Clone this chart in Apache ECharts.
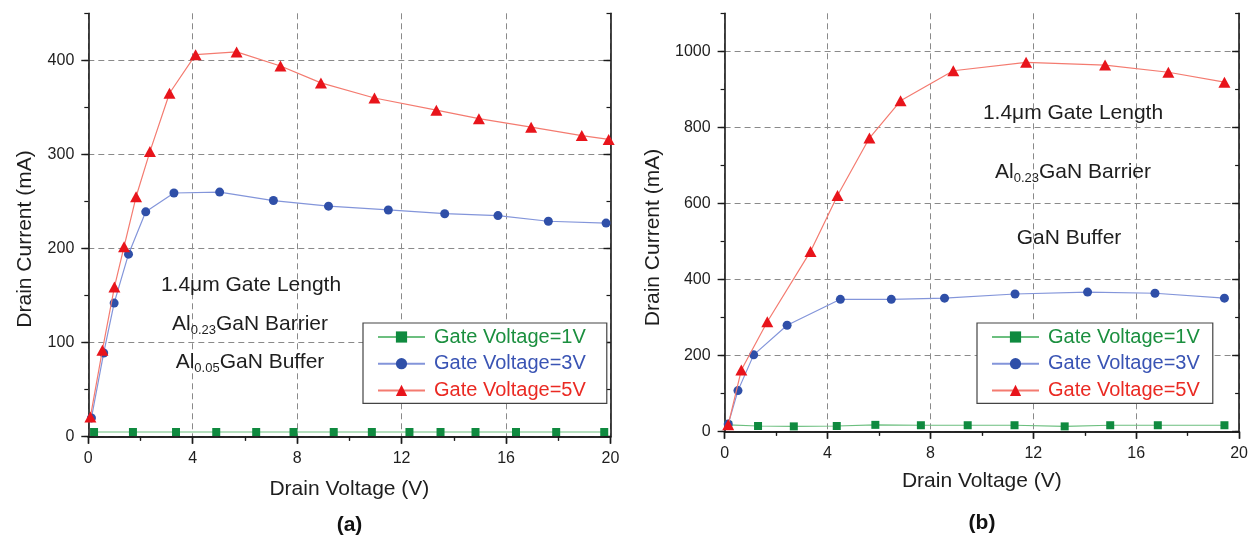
<!DOCTYPE html>
<html>
<head>
<meta charset="utf-8">
<script src="https://cdn.jsdelivr.net/npm/echarts@6/dist/echarts.min.js"></script>
<style>
  html, body { margin: 0; padding: 0; background: #ffffff; }
  #chart { width: 1252px; height: 535px; }
</style>
</head>
<body>
<div id="chart"></div>
<script>
// ---- Panel (a): Al0.05GaN buffer, drain current vs drain voltage ----
const aV1 = [0.22, 1.71, 3.36, 4.90, 6.43, 7.86, 9.40, 10.86, 12.30, 13.49, 14.83, 16.38, 17.92, 19.76];
const aI1 = [5, 5, 5, 5, 5, 5, 5, 5, 5, 5, 5, 5, 5, 5];
const aV3 = [0.12, 0.59, 0.99, 1.54, 2.20, 3.28, 5.03, 7.09, 9.20, 11.49, 13.65, 15.69, 17.62, 19.83];
const aI3 = [20, 89, 142, 194, 239, 259, 260, 251, 245, 241, 237, 235, 229, 227];
const aV5 = [0.08, 0.54, 1.00, 1.37, 1.83, 2.36, 3.11, 4.11, 5.68, 7.36, 8.91, 10.96, 13.33, 14.96, 16.96, 18.90, 19.93];
const aI5 = [21, 92, 159, 202, 255, 303, 365, 406, 409, 394, 376, 360, 347, 338, 329, 320, 316];

// ---- Panel (b): GaN buffer ----
const bV1 = [0.14, 1.30, 2.69, 4.36, 5.86, 7.63, 9.45, 11.27, 13.22, 14.99, 16.84, 19.43];
const bI1 = [18, 15, 14, 15, 18, 17, 17, 17, 14, 17, 17, 17];
const bV3 = [0.14, 0.52, 1.13, 2.43, 4.50, 6.48, 8.55, 11.29, 14.11, 16.73, 19.43];
const bI3 = [20, 108, 202, 280, 348, 348, 351, 362, 367, 364, 351];
const bV5 = [0.14, 0.65, 1.66, 3.34, 4.39, 5.63, 6.84, 8.89, 11.72, 14.79, 17.25, 19.43];
const bI5 = [18, 162, 289, 474, 621, 772, 870, 949, 971, 964, 945, 919];

const seriesNames = ['Gate Voltage=1V', 'Gate Voltage=3V', 'Gate Voltage=5V'];
const xTicks = [0, 4, 8, 12, 16, 20];
const aYTicks = [0, 100, 200, 300, 400];
const bYTicks = [0, 200, 400, 600, 800, 1000];

const FONT = "'Liberation Sans', Arial, Helvetica, sans-serif";
const INK = '#1e1e1e';
const AXIS_LINE = { show: true, lineStyle: { color: '#1a1a1a', width: 1.6 } };
const GRID_LINE = { show: true, lineStyle: { color: '#8a8a8a', width: 1, type: [6, 4] } };

const styles = [
  { symbol: 'rect',     size: 8,        marker: '#0f8a3f', line: '#6cbf7f', text: '#1b8f3f' },
  { symbol: 'circle',   size: 9,        marker: '#2f4fa8', line: '#8395da', text: '#3a54b4' },
  { symbol: 'triangle', size: [12, 11], marker: '#e8141b', line: '#f47b70', text: '#ea2a23' }
];

function zip(xs, ys) { return xs.map((x, i) => [x, ys[i]]); }

// axes for one panel: main bottom/left axes, mirrored top/right, plus minor-tick overlays
function panelAxes(gridIndex, yMax, yStep, yMinor, yTicks, yNameGap, yShift, xNameGap) {
  const x = [
    {
      type: 'value', gridIndex, position: 'bottom', min: 0, max: 20, interval: 4,
      axisLine: AXIS_LINE,
      axisTick: { show: true, inside: false, length: 7, lineStyle: { color: '#1a1a1a', width: 1.4 } },
      minorTick: { show: true, splitNumber: 2, length: 4, lineStyle: { color: '#1a1a1a', width: 1.2 } },
      axisLabel: { show: true, margin: 14, fontSize: 16, color: INK, fontFamily: FONT, customValues: xTicks },
      splitLine: GRID_LINE,
      name: 'Drain Voltage (V)', nameLocation: 'middle', nameGap: xNameGap,
      nameTextStyle: { fontSize: 21, color: INK, fontFamily: FONT }
    },
    {
      type: 'value', gridIndex, position: 'top', min: 0, max: 20, interval: 4,
      axisLine: AXIS_LINE,
      axisTick: { show: true, inside: true, length: 7, lineStyle: { color: '#1a1a1a', width: 1.4 } },
      minorTick: { show: true, splitNumber: 2, length: 4, lineStyle: { color: '#1a1a1a', width: 1.2 } },
      axisLabel: { show: false }, splitLine: { show: false }
    }
  ];
  const common = { type: 'value', gridIndex, min: 0, max: yMax };
  const y = [
    Object.assign({}, common, {
      position: 'left', interval: yStep,
      axisLine: AXIS_LINE,
      axisTick: { show: true, inside: false, length: 7, customValues: yTicks, lineStyle: { color: '#1a1a1a', width: 1.4 } },
      axisLabel: {
        show: true, margin: 14, fontSize: 16, color: INK, fontFamily: FONT, customValues: yTicks,
        formatter: v => (yTicks.indexOf(v) >= 0 ? String(v) : '')
      },
      splitLine: GRID_LINE,
      name: 'Drain Current (mA)', nameLocation: 'middle', nameGap: yNameGap,
      nameTextStyle: { fontSize: 21, color: INK, fontFamily: FONT, padding: [0, yShift * 2, 0, 0] }
    }),
    Object.assign({}, common, {
      position: 'left', interval: yMinor,
      axisLine: { show: false },
      axisTick: { show: true, inside: false, length: 4, lineStyle: { color: '#1a1a1a', width: 1.2 } },
      axisLabel: { show: false }, splitLine: { show: false }
    }),
    Object.assign({}, common, {
      position: 'right', interval: yStep,
      axisLine: AXIS_LINE,
      axisTick: { show: true, inside: true, length: 7, customValues: yTicks, lineStyle: { color: '#1a1a1a', width: 1.4 } },
      axisLabel: { show: false }, splitLine: { show: false }
    }),
    Object.assign({}, common, {
      position: 'right', interval: yMinor,
      axisLine: { show: false },
      axisTick: { show: true, inside: true, length: 4, lineStyle: { color: '#1a1a1a', width: 1.2 } },
      axisLabel: { show: false }, splitLine: { show: false }
    })
  ];
  return { x, y };
}

const axA = panelAxes(0, 450, 100, 50, aYTicks, 53, 14, 42);
const axB = panelAxes(1, 1100, 200, 100, bYTicks, 61, 15, 39);

function makeSeries(xIdx, yIdx, pairs) {
  return pairs.map((data, k) => ({
    name: seriesNames[k], type: 'line', xAxisIndex: xIdx, yAxisIndex: yIdx,
    data, symbol: styles[k].symbol, symbolSize: styles[k].size,
    itemStyle: { color: styles[k].marker },
    lineStyle: { color: styles[k].line, width: 1.2 },
    z: 3 + k, clip: true
  }));
}

const seriesA = makeSeries(0, 0, [zip(aV1, aI1), zip(aV3, aI3), zip(aV5, aI5)]);
const seriesB = makeSeries(2, 4, [zip(bV1, bI1), zip(bV3, bI3), zip(bV5, bI5)]);

function legendAt(left, top, padRight) {
  return {
    orient: 'vertical', left, top, selectedMode: false,
    backgroundColor: '#ffffff', borderColor: '#444444', borderWidth: 1.2,
    padding: [4, padRight, 3, 14], itemGap: 6.7, itemWidth: 47, itemHeight: 14,
    textStyle: { fontSize: 20, lineHeight: 20, fontFamily: FONT, padding: [0, 0, 0, 4] },
    data: seriesNames.map((n, k) => ({ name: n, textStyle: { color: styles[k].text } }))
  };
}

const richSub = {
  m: { fontSize: 21, lineHeight: 26, color: INK, fontFamily: FONT },
  s: { fontSize: 13, lineHeight: 13, color: INK, fontFamily: FONT, padding: [12, 0, 0, 0] }
};
function note(x, y, text) {
  return {
    type: 'text', x, y, z: 20,
    style: { text, rich: richSub, align: 'center', verticalAlign: 'middle', fill: INK, font: '21px ' + FONT }
  };
}

const option = {
  animation: false,
  backgroundColor: '#ffffff',
  textStyle: { fontFamily: FONT },
  grid: [
    { left: 88.3, top: 13.3, width: 522.2, height: 423.4, outerBoundsMode: 'none', containLabel: false },
    { left: 724.6, top: 13.3, width: 514.5, height: 418.4, outerBoundsMode: 'none', containLabel: false }
  ],
  xAxis: axA.x.concat(axB.x),
  yAxis: axA.y.concat(axB.y),
  legend: [legendAt(363, 323, 21), legendAt(977, 323, 13)],
  series: seriesA.concat(seriesB),
  graphic: [
    note(251, 285, '{m|1.4μm Gate Length}'),
    note(250, 324, '{m|Al}{s|0.23}{m|GaN Barrier}'),
    note(250, 362, '{m|Al}{s|0.05}{m|GaN Buffer}'),
    note(1073, 113, '{m|1.4μm Gate Length}'),
    note(1073, 172, '{m|Al}{s|0.23}{m|GaN Barrier}'),
    note(1069, 238, '{m|GaN Buffer}'),
    { type: 'text', x: 349.5, y: 525, style: { text: '(a)', font: 'bold 21px ' + FONT, fill: '#111', align: 'center', verticalAlign: 'middle' } },
    { type: 'text', x: 982, y: 523, style: { text: '(b)', font: 'bold 21px ' + FONT, fill: '#111', align: 'center', verticalAlign: 'middle' } }
  ]
};

const chart = echarts.init(document.getElementById('chart'), null, { renderer: 'canvas' });
chart.setOption(option);
</script>
</body>
</html>
